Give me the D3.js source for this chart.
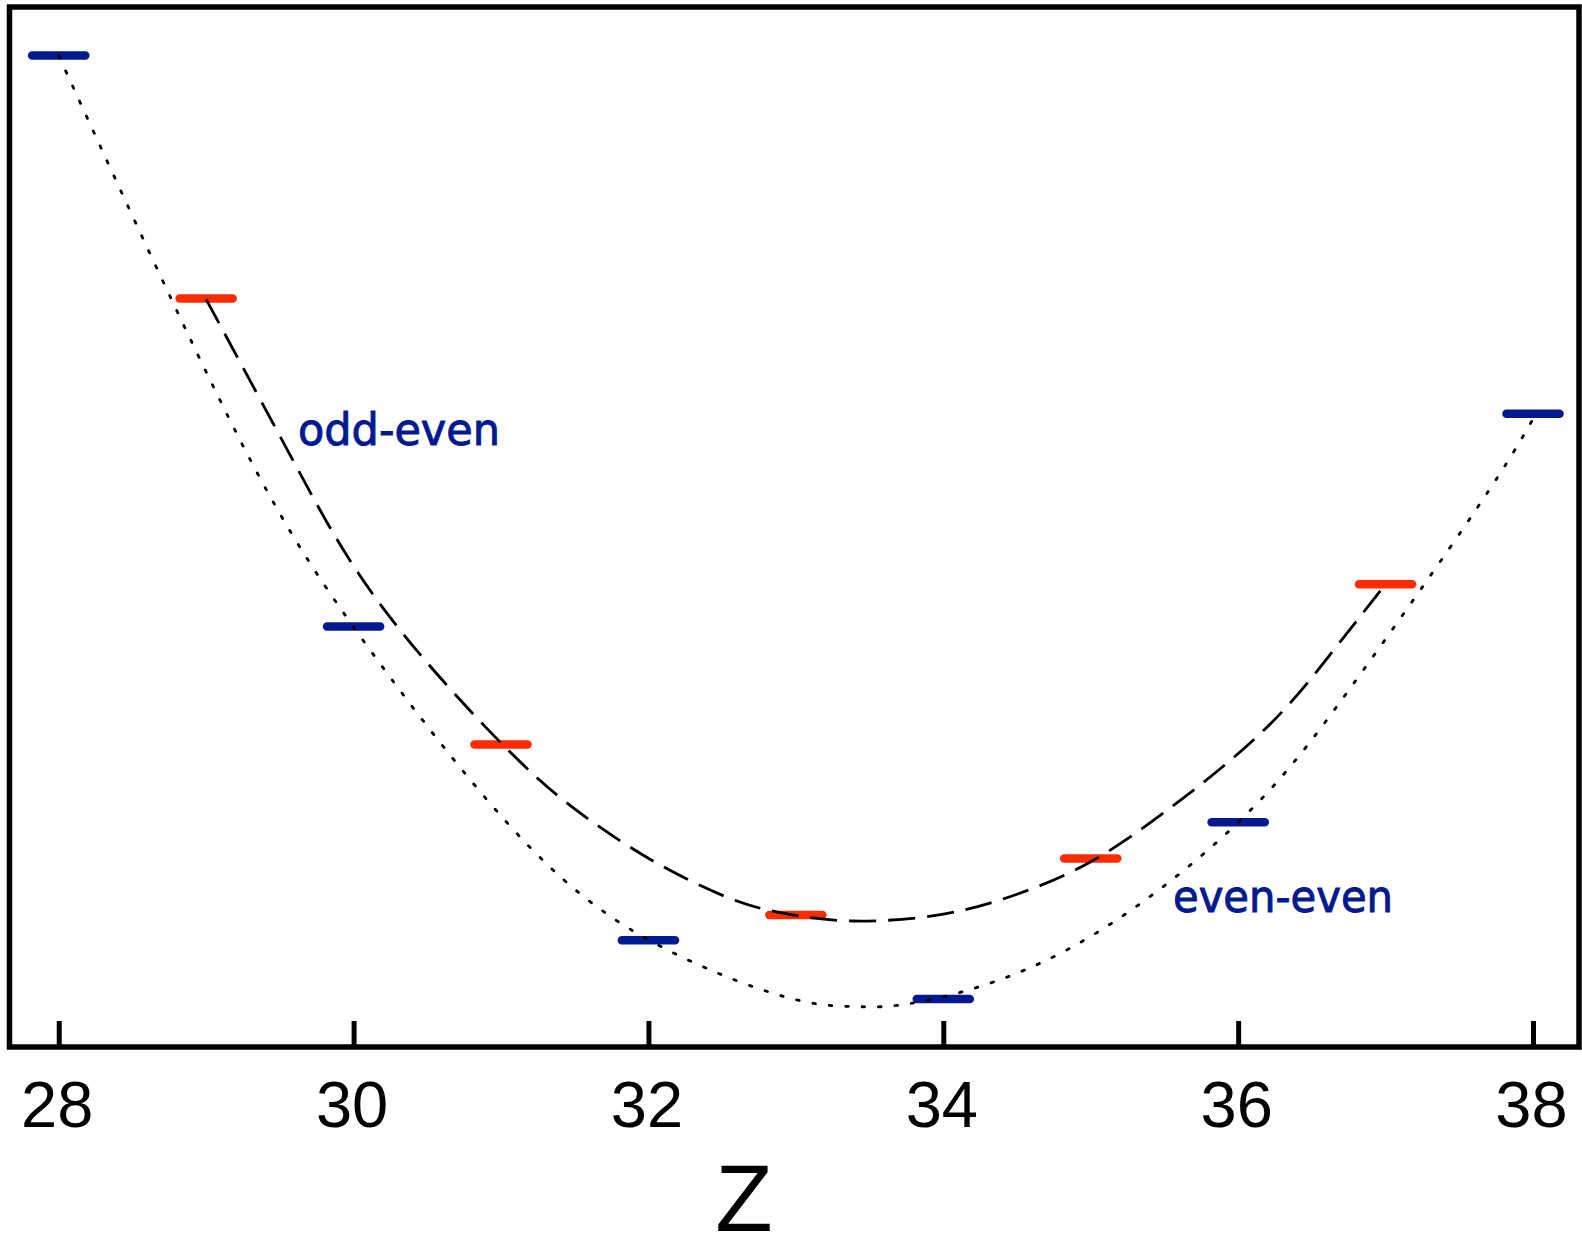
<!DOCTYPE html>
<html>
<head>
<meta charset="utf-8">
<script src="https://cdn.jsdelivr.net/npm/d3@7"></script>
<style>
  body { margin: 0; background: #fff; }
  svg { display: block; }
</style>
</head>
<body>
<svg id="svg-chart"></svg>
<script>
// measured levels (arbitrary energy units), Z = 28..38
const evenZ = [28, 30, 32, 34, 36, 38];
const evenE = [24.79, 10.51, 2.67, 1.2, 5.62, 15.83];
const oddZ = [29, 31, 33, 35, 37];
const oddE = [18.71, 7.56, 3.3, 4.71, 11.57];

// fitted curves
const dotZ = [28, 29.16, 29.99, 31.06, 31.99, 32.92, 33.41, 33.84, 34.84, 35.97, 36.76, 37.62, 38];
const dotE = [24.78, 15.68, 10.55, 5.53, 2.7, 1.26, 1.01, 1.13, 2.43, 5.51, 8.97, 13.47, 15.7];
const dashZ = [29, 29.6, 30.2, 31.06, 31.6, 32.06, 32.55, 32.92, 33.39, 34, 34.5, 35, 35.58, 36.2, 36.65, 37];
const dashE = [18.69, 14.59, 10.97, 7.38, 5.68, 4.59, 3.72, 3.34, 3.15, 3.32, 3.82, 4.63, 6.09, 8.01, 9.93, 11.57];

const xTicks = [28, 30, 32, 34, 36, 38];

const width = 1582;
const height = 1239;
const margin = { left: 9.5, right: 3, top: 7, bottom: 192 };

const blue = "#03198f";
const red = "#ff2c00";

const svg = d3.select("#svg-chart").attr("width", width).attr("height", height);

const xScale = d3.scaleLinear().domain([27.666, 38.312]).range([margin.left, width - margin.right]);
const yScale = d3.scaleLinear().domain([0, 26]).range([height - margin.bottom, margin.top]);

const halfW = 0.18;

// level bars
function drawLevels(zs, es, color) {
  svg.append("g")
    .selectAll("line")
    .data(d3.zip(zs, es))
    .join("line")
    .attr("x1", function (d) { return xScale(d[0] - halfW); })
    .attr("x2", function (d) { return xScale(d[0] + halfW); })
    .attr("y1", function (d) { return yScale(d[1]); })
    .attr("y2", function (d) { return yScale(d[1]); })
    .attr("stroke", color)
    .attr("stroke-width", 8.5)
    .attr("stroke-linecap", "round");
}
drawLevels(evenZ, evenE, blue);
drawLevels(oddZ, oddE, red);

// curves, on top of the bars
const line = d3.line()
  .x(function (d) { return xScale(d[0]); })
  .y(function (d) { return yScale(d[1]); })
  .curve(d3.curveNatural);

svg.append("path")
  .datum(d3.zip(dotZ, dotE))
  .attr("d", line)
  .attr("fill", "none")
  .attr("stroke", "#000")
  .attr("stroke-width", 2.8)
  .attr("stroke-linecap", "round")
  .attr("stroke-dasharray", "2.5 14");

svg.append("path")
  .datum(d3.zip(dashZ, dashE))
  .attr("d", line)
  .attr("fill", "none")
  .attr("stroke", "#000")
  .attr("stroke-width", 2.8)
  .attr("stroke-dasharray", "27 12");

// frame
svg.append("rect")
  .attr("x", margin.left)
  .attr("y", margin.top)
  .attr("width", width - margin.right - margin.left)
  .attr("height", height - margin.bottom - margin.top)
  .attr("fill", "none")
  .attr("stroke", "#000")
  .attr("stroke-width", 5.5);

// x axis
const axisBottom = d3.axisBottom(xScale)
  .tickValues(xTicks)
  .tickSizeInner(-26)
  .tickSizeOuter(0)
  .tickPadding(34)
  .tickFormat(d3.format("d"));

const gx = svg.append("g")
  .attr("transform", "translate(0," + (height - margin.bottom) + ")")
  .call(axisBottom);
gx.select(".domain").remove();
gx.selectAll(".tick line").attr("stroke", "#000").attr("stroke-width", 5);
gx.selectAll(".tick text")
  .attr("fill", "#000")
  .attr("font-family", "'Liberation Sans', Arial, Helvetica, sans-serif")
  .attr("font-size", 65)
  .attr("dx", -2);

svg.append("text")
  .attr("x", 744)
  .attr("y", 1231)
  .attr("text-anchor", "middle")
  .attr("font-family", "'Liberation Sans', Arial, Helvetica, sans-serif")
  .attr("font-size", 94)
  .text("Z");

// series labels
function seriesLabel(x, y, len, txt) {
  svg.append("text")
    .attr("x", x)
    .attr("y", y)
    .attr("fill", blue)
    .attr("stroke", blue)
    .attr("stroke-width", 1)
    .attr("font-family", "'DejaVu Sans', sans-serif")
    .attr("font-size", 45)
    .attr("textLength", len)
    .attr("lengthAdjust", "spacingAndGlyphs")
    .text(txt);
}
seriesLabel(298, 445, 202, "odd-even");
seriesLabel(1173, 912, 220, "even-even");
</script>
</body>
</html>
